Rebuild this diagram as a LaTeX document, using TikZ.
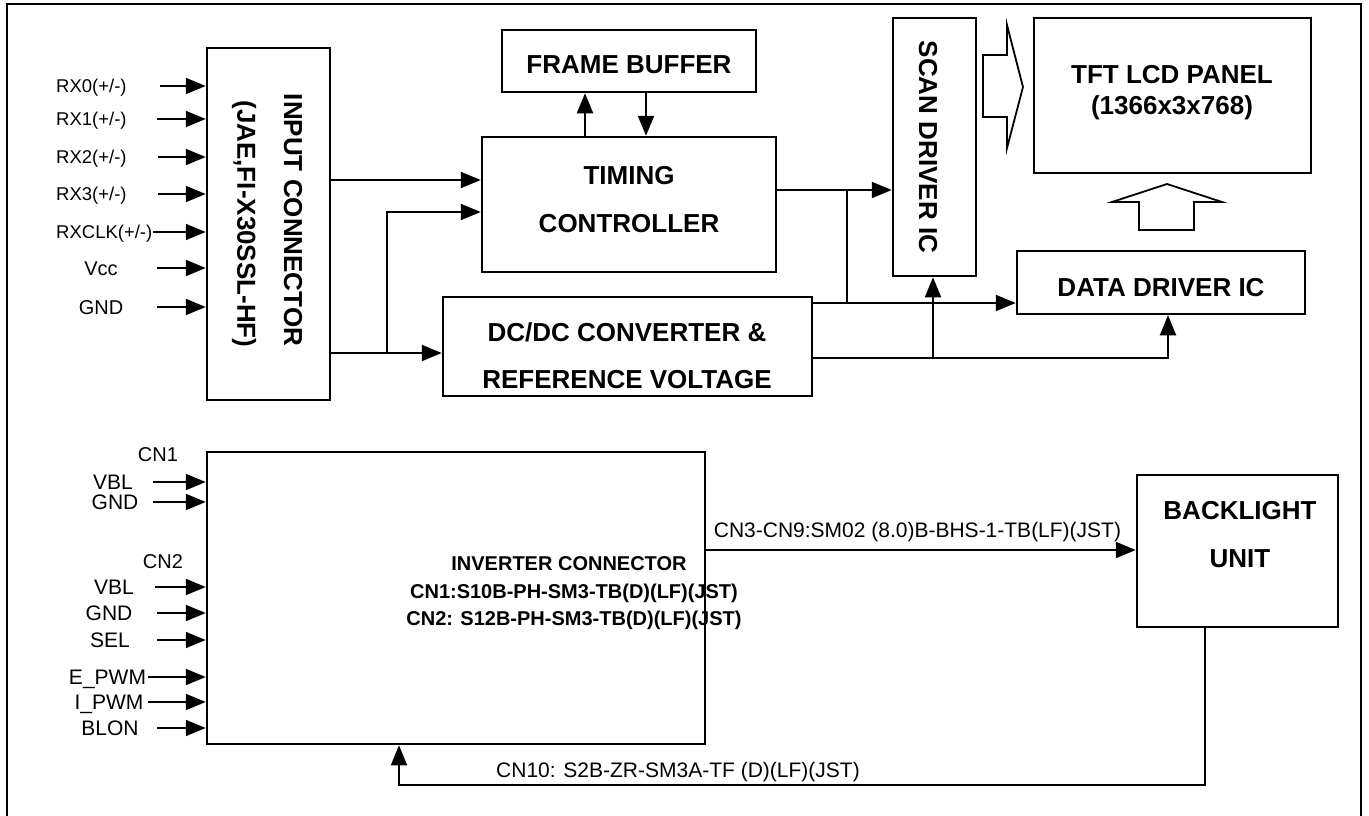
\documentclass[tikz,border=0pt]{standalone}
\usepackage{fontspec}
\setmainfont{Liberation Sans}
\usetikzlibrary{arrows.meta}
\begin{document}
\begin{tikzpicture}[x=1pt,y=-1pt,
  box/.style={draw, line width=2.5pt, inner sep=0pt},
  big/.style={font=\fontsize{26}{30}\selectfont\bfseries, inner sep=0pt},
  mid/.style={font=\fontsize{20}{24}\selectfont\bfseries, inner sep=0pt},
  sm/.style={font=\fontsize{20}{24}\selectfont, inner sep=0pt, anchor=base, yshift=-7pt},
  lsm/.style={font=\fontsize{21}{24}\selectfont, inner sep=0pt, anchor=base, yshift=-7.5pt},
  rx/.style={font=\fontsize{18.5}{22}\selectfont, inner sep=0pt, anchor=base west, yshift=-6.6pt},
  arr/.style={line width=2pt, -{Triangle[length=20pt,width=16pt]}},
  wire/.style={line width=2pt},
  hollow/.style={line width=1.8pt, line join=miter}]
\useasboundingbox (0,0) rectangle (1369,816);
% outer frame
\draw[line width=2pt] (7,818) -- (7,4) -- (1361,4) -- (1361,818);

% boxes
\node[box, minimum width=123pt, minimum height=352pt] (inc) at (268.5,224) {};
\node[box, minimum width=254pt, minimum height=62pt] (fb) at (629,61) {};
\node[box, minimum width=294pt, minimum height=135pt] (tc) at (629,204.5) {};
\node[box, minimum width=369pt, minimum height=99pt] (dc) at (627.5,346.5) {};
\node[box, minimum width=83pt, minimum height=258pt] (scan) at (934.5,147) {};
\node[box, minimum width=277pt, minimum height=155pt] (tft) at (1172.5,95.5) {};
\node[box, minimum width=288pt, minimum height=63pt] (dd) at (1161,282.5) {};
\node[box, minimum width=498pt, minimum height=292pt] (inv) at (456,598) {};
\node[box, minimum width=201pt, minimum height=152pt] (bl) at (1237.5,551) {};

% box texts
\node[big] (tfb) at (629,65) {FRAME BUFFER};
\node[big] (ttc1) at (629,176) {TIMING};
\node[big] (ttc2) at (629,224) {CONTROLLER};
\node[big] (tdc1) at (627,332.5) {DC/DC CONVERTER \&};
\node[big] (tdc2) at (627,380) {REFERENCE VOLTAGE};
\node[big, rotate=-90] (tscan) at (928,147) {SCAN DRIVER IC};
\node[big] (ttft1) at (1172,75) {TFT LCD PANEL};
\node[big] (ttft2) at (1172,108) {(1366x3x768)};
\node[big] (tdd) at (1161,287.5) {DATA DRIVER IC};
\node[big, rotate=-90] (tinc1) at (293,220) {INPUT CONNECTOR};
\node[big, rotate=-90] (tinc2) at (244,224) {(JAE,FI-X30SSL-HF)};
\node[big] (tbl1) at (1240,511) {BACKLIGHT};
\node[big] (tbl2) at (1240,559) {UNIT};
\node[mid] (tinv1) at (569,564) {INVERTER CONNECTOR};
\node[mid] (tinv2) at (574,593) {CN1:S10B-PH-SM3-TB(D)(LF)(JST)};
\node[mid] (tinv3) at (574,620) {CN2: S12B-PH-SM3-TB(D)(LF)(JST)};

% input connector signals
\node[rx] (l0) at (56,86) {RX0(+/-)};
\node[rx] (l1) at (56,119) {RX1(+/-)};
\node[rx] (l2) at (56,157) {RX2(+/-)};
\node[rx] (l3) at (56,194) {RX3(+/-)};
\node[rx] (l4) at (56,232) {RXCLK(+/-)};
\node[sm] (l5) at (101,268) {Vcc};
\node[sm] (l6) at (101,307) {GND};
\coordinate (s0) at (160,86);
\coordinate (s1) at (157,119);
\coordinate (s2) at (158,157);
\coordinate (s3) at (158,194);
\coordinate (s4) at (153,232);
\coordinate (s5) at (157,268);
\coordinate (s6) at (157,307);
\foreach \s in {s0,s1,s2,s3,s4,s5,s6}{
  \draw[arr] (\s) -- (\s -| inc.west);
}

% inverter signals
\node[sm] (c1) at (158,454) {CN1};
\node[lsm] (v1) at (113,482) {VBL};
\node[lsm] (g1) at (115,502) {GND};
\node[sm] (c2) at (163,561) {CN2};
\node[lsm] (v2) at (114,587) {VBL};
\node[lsm] (g2) at (109,613) {GND};
\node[lsm] (sel) at (110,640) {SEL};
\node[lsm] (epw) at (107.5,677) {E\_PWM};
\node[lsm] (ipw) at (109,702) {I\_PWM};
\node[lsm] (blo) at (110,728) {BLON};
\coordinate (t0) at (153,482);
\coordinate (t1) at (153,502);
\coordinate (t2) at (155,587);
\coordinate (t3) at (157,613);
\coordinate (t4) at (157,640);
\coordinate (t5) at (148,677);
\coordinate (t6) at (148,702);
\coordinate (t7) at (157,728);
\foreach \t in {t0,t1,t2,t3,t4,t5,t6,t7}{
  \draw[arr] (\t) -- (\t -| inv.west);
}

% helper coordinates
\coordinate (p1) at (0,180);
\coordinate (p2) at (0,212);
\coordinate (j2) at (387,353);
\coordinate (q1) at (585,0);
\coordinate (q2) at (646,0);
\coordinate (p3) at (0,190);
\coordinate (j3) at (847,190);
\coordinate (j4) at (847,303);
\coordinate (p4) at (0,303);
\coordinate (p5) at (0,358);
\coordinate (q3) at (1168,0);
\coordinate (j5) at (933,358);
\coordinate (p6) at (0,550);
\coordinate (q4) at (1205,0);
\coordinate (j6) at (399,785);

% upper connectors
\draw[arr] (inc.east |- p1) -- (tc.west |- p1);
\draw[arr] (inc.east |- j2) -- (dc.west |- j2);
\draw[arr] (j2) |- (tc.west |- p2);
\draw[arr] (tc.north -| q1) -- (fb.south -| q1);
\draw[arr] (fb.south -| q2) -- (tc.north -| q2);
\draw[arr] (tc.east |- p3) -- (scan.west |- p3);
\draw[wire] (j3) -- (j4);
\draw[arr] (dc.east |- p4) -- (dd.west |- p4);
\draw[arr] (dc.east |- p5) -| (dd.south -| q3);
\draw[arr] (j5) -- (scan.south -| j5);

% hollow arrows
\draw[hollow] (983,55) -- (1007,55) -- (1007,25) -- (1023,87) -- (1007,148) -- (1007,117) -- (983,117) -- cycle;
\draw[hollow] (1139,230) -- (1139,202) -- (1112,202) -- (1167,184) -- (1222,202) -- (1194,202) -- (1194,230) -- cycle;

% lower connectors
\draw[arr] (inv.east |- p6) -- (bl.west |- p6);
\node[lsm] (lab1) at (917.5,530) {CN3-CN9:SM02 (8.0)B-BHS-1-TB(LF)(JST)};
\draw[arr, line width=1.6pt] (bl.south -| q4) |- (j6) -- (inv.south -| j6);
\node[lsm] (lab2) at (678,770) {CN10: S2B-ZR-SM3A-TF (D)(LF)(JST)};
\end{tikzpicture}
\end{document}
